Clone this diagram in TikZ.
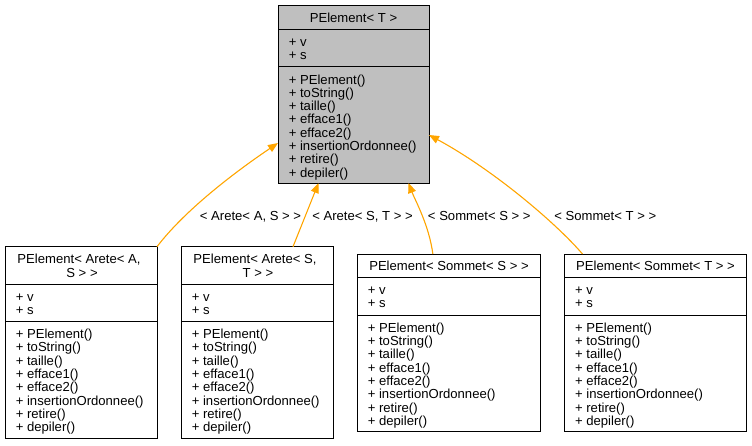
\documentclass[tikz,border=0pt]{standalone}
\usepackage{fontspec}
\setmainfont{Liberation Sans}
\usetikzlibrary{arrows.meta,calc}
\definecolor{edgeor}{HTML}{FFA500}
\definecolor{topfill}{HTML}{BFBFBF}
\tikzset{
 txt/.style={font=\fontsize{13.1}{13.33}\selectfont, inner sep=0pt, outer sep=0pt},
 cls/.style={draw=black, line width=1pt, fill=white, rectangle, inner sep=0pt, outer sep=0pt, anchor=north west},
 sepline/.style={draw=black, line width=1pt},
 inh/.style={draw=edgeor, line width=1.1pt, -{Triangle[length=10pt,width=8pt]}},
 lbl/.style={txt, anchor=base},
}
\newcommand\memlist[4]{%
  \foreach[count=\i] \t in {#3} {\node[txt, anchor=base west] (#4-\i) at (#1, {#2+13.33*(\i-1)}) {\t};}}
\newcommand\attrs[3]{\memlist{#1}{#2}{+ v,+ s}{#3}}
\newcommand\meths[3]{\memlist{#1}{#2}{+ PElement(),+ toString(),+ taille(),+ efface1(),+ efface2(),+ insertionOrdonnee(),+ retire(),+ depiler()}{#3}}
\begin{document}
\begin{tikzpicture}[x=1pt,y=-1pt]
\useasboundingbox (0,0) rectangle (752,445);
% top class
\node[cls, fill=topfill, minimum width=151pt, minimum height=177.5pt] (top) at (278,5.5) {};
\draw[sepline] (top.west |- 0,29.3) -- (top.east |- 0,29.3);
\draw[sepline] (top.west |- 0,66.7) -- (top.east |- 0,66.7);
\node[txt, anchor=base] (topt) at (353.5,22) {PElement< T >};
\attrs{288.8}{46}{ta}
\meths{288.8}{84}{tm}
% box 1
\node[cls, minimum width=152pt, minimum height=191.6pt] (b1) at (5,246.7) {};
\draw[sepline] (b1.west |- 0,284) -- (b1.east |- 0,284);
\draw[sepline] (b1.west |- 0,321.3) -- (b1.east |- 0,321.3);
\node[txt, anchor=base] (b1t1) at (79,263.7) {PElement< Arete< A,};
\node[txt, anchor=base] (b1t2) at (82,277) {S > >};
\attrs{15.8}{301.3}{b1a}
\meths{15.8}{338.6}{b1m}
% box 2
\node[cls, minimum width=152pt, minimum height=191.6pt] (b2) at (181,246.7) {};
\draw[sepline] (b2.west |- 0,284) -- (b2.east |- 0,284);
\draw[sepline] (b2.west |- 0,321.3) -- (b2.east |- 0,321.3);
\node[txt, anchor=base] (b2t1) at (255,263.7) {PElement< Arete< S,};
\node[txt, anchor=base] (b2t2) at (258,277) {T > >};
\attrs{191.8}{301.3}{b2a}
\meths{191.8}{338.6}{b2m}
% box 3
\node[cls, minimum width=183.7pt, minimum height=177.7pt] (b3) at (357,254) {};
\draw[sepline] (b3.west |- 0,277.7) -- (b3.east |- 0,277.7);
\draw[sepline] (b3.west |- 0,315) -- (b3.east |- 0,315);
\node[txt, anchor=base] (b3t) at (449,270.7) {PElement< Sommet< S > >};
\attrs{367.8}{294.3}{b3a}
\meths{367.8}{332.2}{b3m}
% box 4
\node[cls, minimum width=182.4pt, minimum height=177.7pt] (b4) at (564.3,254) {};
\draw[sepline] (b4.west |- 0,277.7) -- (b4.east |- 0,277.7);
\draw[sepline] (b4.west |- 0,315) -- (b4.east |- 0,315);
\node[txt, anchor=base] (b4t) at (655.5,270.7) {PElement< Sommet< T > >};
\attrs{575.1}{294.3}{b4a}
\meths{575.1}{332.2}{b4m}
% edges
\draw[inh] (b1.north east) .. controls (185,210) and (235,172) .. ($(top.south west)+(0,-40)$);
\draw[inh] ($(b2.north)+(36,0)$) -- ($(top.south)+(-35,0)$);
\draw[inh] ($(b3.north)+(-16,0)$) .. controls (429,225) and (415,200) .. ($(top.south)+(55,0)$);
\draw[inh] ($(b4.north)+(-73,0)$) .. controls (555,222) and (492,169) .. ($(top.south east)+(0,-48)$);
% edge labels
\node[lbl] (l1) at (250.5,220.4) {< Arete< A, S > >};
\node[lbl] (l2) at (362.5,220.4) {< Arete< S, T > >};
\node[lbl] (l3) at (479.3,220.4) {< Sommet< S > >};
\node[lbl] (l4) at (605.3,220.4) {< Sommet< T > >};
\end{tikzpicture}
\end{document}
